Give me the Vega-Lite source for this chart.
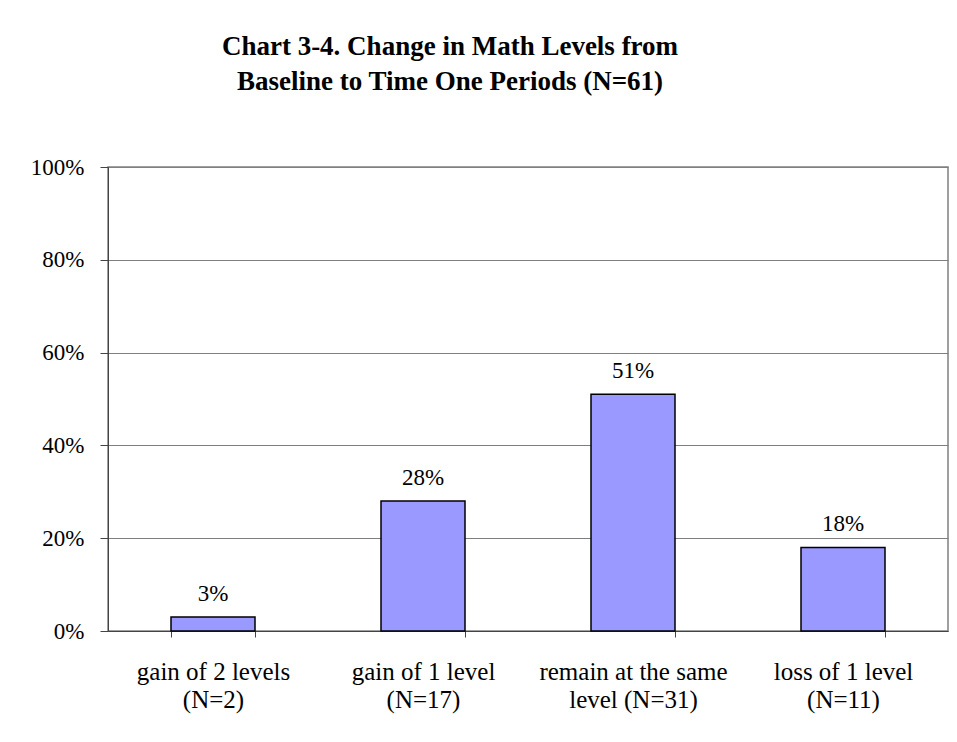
{
  "$schema": "https://vega.github.io/schema/vega-lite/v6.json",
  "autosize": {"type": "none"},
  "width": 840,
  "height": 464,
  "padding": {"left": 108, "top": 167, "right": 9, "bottom": 111},
  "background": "white",
  "title": {
    "text": ["Chart 3-4. Change in Math Levels from", "Baseline to Time One Periods (N=61)"],
    "font": "'Liberation Serif', serif",
    "fontSize": 27,
    "fontWeight": "bold",
    "color": "black",
    "anchor": "middle",
    "dx": -78,
    "offset": 60,
    "lineHeight": 35
  },
  "data": {
    "values": [
      {"category": "gain of 2 levels (N=2)", "pct": 0.03},
      {"category": "gain of 1 level (N=17)", "pct": 0.28},
      {"category": "remain at the same level (N=31)", "pct": 0.51},
      {"category": "loss of 1 level (N=11)", "pct": 0.18}
    ]
  },
  "encoding": {
    "x": {
      "field": "category",
      "type": "nominal",
      "sort": null,
      "scale": {"paddingInner": 0.6, "paddingOuter": 0.3},
      "axis": {
        "title": null,
        "labelAngle": 0,
        "labelFont": "'Liberation Serif', serif",
        "labelFontSize": 25,
        "labelColor": "black",
        "labelPadding": 22,
        "labelLineHeight": 28,
        "labelLimit": 0,
        "labelExpr": "!isString(datum.value) ? '' : datum.value == 'remain at the same level (N=31)' ? ['remain at the same', 'level (N=31)'] : split(replace(datum.value, ' (N', '|(N'), '|')",
        "tickBand": "extent",
        "tickColor": "#444",
        "tickSize": 6,
        "domainColor": "#444",
        "grid": false
      }
    },
    "y": {
      "field": "pct",
      "type": "quantitative",
      "scale": {"domain": [0, 1]},
      "axis": {
        "title": null,
        "values": [0, 0.2, 0.4, 0.6, 0.8, 1],
        "format": ".0%",
        "labelFont": "'Liberation Serif', serif",
        "labelFontSize": 23,
        "labelColor": "black",
        "labelPadding": 16,
        "tickColor": "#444",
        "tickSize": 8,
        "domainColor": "#444",
        "gridColor": "#808080",
        "gridOpacity": 1
      }
    }
  },
  "layer": [
    {
      "mark": {"type": "bar", "fill": "#9999FF", "stroke": "black", "strokeWidth": 1.5}
    },
    {
      "mark": {"type": "text", "font": "'Liberation Serif', serif", "fontSize": 23, "color": "black", "baseline": "alphabetic", "dy": -16},
      "encoding": {"text": {"field": "pct", "type": "quantitative", "format": ".0%"}}
    }
  ],
  "config": {
    "view": {"stroke": "#808080", "strokeWidth": 1.5}
  }
}
